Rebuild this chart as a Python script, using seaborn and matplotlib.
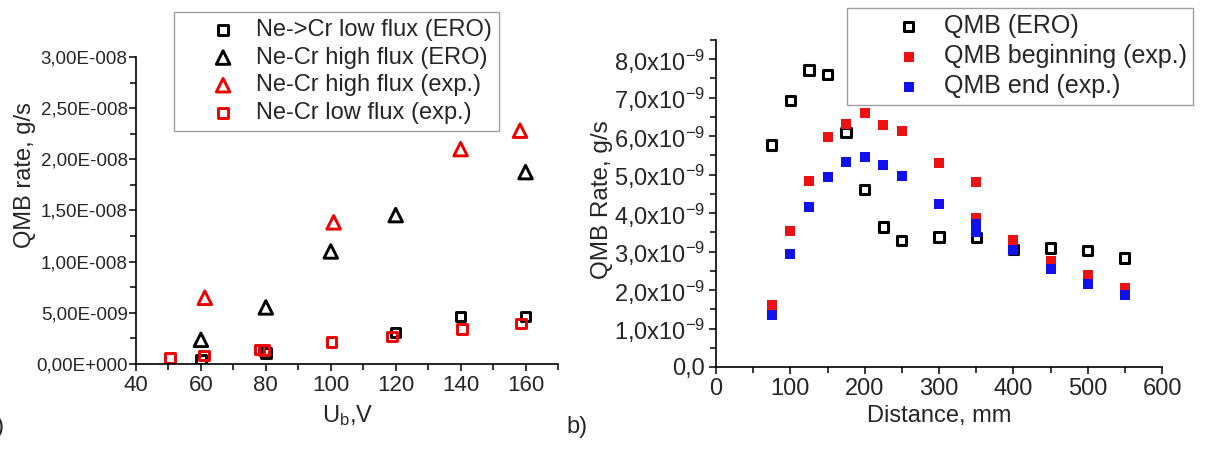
import matplotlib
matplotlib.use('Agg')
import matplotlib.pyplot as plt
import matplotlib.ticker as mticker
import numpy as np
import pandas as pd
import seaborn as sns

# panel a) -- QMB rate vs bias voltage
ero_low_x = [60, 80, 120, 140, 160]
ero_low_y = [0.42e-9, 1.07e-9, 3.1e-9, 4.62e-9, 4.62e-9]
ero_high_x = [60, 80, 100, 120, 160]
ero_high_y = [2.36e-9, 5.53e-9, 11.0e-9, 14.55e-9, 18.75e-9]
exp_high_x = [61.2, 100.9, 140, 158.3]
exp_high_y = [6.47e-9, 13.84e-9, 21.0e-9, 22.8e-9]
exp_low_x = [50.5, 61, 78, 79.4, 100.2, 118.8, 140.4, 158.6]
exp_low_y = [0.58e-9, 0.84e-9, 1.39e-9, 1.37e-9, 2.13e-9, 2.68e-9, 3.43e-9, 3.98e-9]

# panel b) -- QMB rate vs distance
qmb_ero_x = [75, 100, 125, 150, 175, 200, 225, 250, 300, 350, 400, 450, 500, 550]
qmb_ero_y = [5.77e-9, 6.92e-9, 7.72e-9, 7.60e-9, 6.09e-9, 4.62e-9, 3.64e-9, 3.28e-9,
             3.38e-9, 3.36e-9, 3.05e-9, 3.09e-9, 3.02e-9, 2.83e-9]
qmb_beg_x = [75, 100, 125, 150, 175, 200, 225, 250, 300, 350, 350, 400, 450, 500, 550]
qmb_beg_y = [1.60e-9, 3.54e-9, 4.83e-9, 5.98e-9, 6.32e-9, 6.61e-9, 6.29e-9, 6.13e-9,
             5.30e-9, 4.82e-9, 3.88e-9, 3.31e-9, 2.76e-9, 2.38e-9, 2.06e-9]
qmb_end_x = [75, 100, 125, 150, 175, 200, 225, 250, 300, 350, 350, 400, 450, 500, 550]
qmb_end_y = [1.36e-9, 2.95e-9, 4.16e-9, 4.95e-9, 5.34e-9, 5.45e-9, 5.25e-9, 4.96e-9,
             4.25e-9, 3.72e-9, 3.52e-9, 3.05e-9, 2.55e-9, 2.17e-9, 1.87e-9]

W, H = 1208, 450


def fmt_a(v, pos):
    if abs(v) < 1e-20:
        return '0,00E+000'
    mant, ex = f'{v:.2E}'.split('E')
    ex = int(ex)
    sign = '-' if ex < 0 else '+'
    return f"{mant.replace('.', ',')}E{sign}{abs(ex):03d}"


def fmt_b(v, pos):
    if abs(v) < 1e-20:
        return '0,0'
    return f"{v * 1e9:.1f}".replace('.', ',') + r'x10$^{-9}$'


def style_axes(ax):
    sns.despine(ax=ax)
    for s in ['left', 'bottom']:
        ax.spines[s].set_linewidth(1.2)
        ax.spines[s].set_color('black')
    ax.tick_params(which='major', direction='out', length=5, width=1.1, color='black')
    ax.tick_params(which='minor', direction='out', length=4, width=1.1, color='black')
    ax.grid(False)


def frame(leg):
    leg.get_frame().set_edgecolor('#888888')
    leg.get_frame().set_linewidth(1.0)


sns.set_style('ticks')
plt.rcParams['font.family'] = ['Liberation Sans', 'DejaVu Sans']
plt.rcParams['mathtext.fontset'] = 'custom'
plt.rcParams['mathtext.rm'] = 'Liberation Sans'
plt.rcParams['mathtext.it'] = 'Liberation Sans:italic'

fig = plt.figure(figsize=(W / 100, H / 100), dpi=100)
ax1 = fig.add_axes([136 / W, 1 - 364 / H, (558 - 136) / W, (364 - 57) / H])
ax2 = fig.add_axes([716 / W, 1 - 367 / H, (1162 - 716) / W, (367 - 40) / H])

# ---- panel a
open_kw = dict(facecolor='none', linewidth=2.1)
sns.scatterplot(x=ero_low_x, y=ero_low_y, marker='s', s=46, edgecolor='black',
                label='Ne->Cr low flux (ERO)', ax=ax1, **open_kw)
sns.scatterplot(x=ero_high_x, y=ero_high_y, marker='^', s=95, edgecolor='black',
                label='Ne-Cr high flux (ERO)', ax=ax1, **open_kw)
sns.scatterplot(x=exp_high_x, y=exp_high_y, marker='^', s=95, edgecolor='#ee0000',
                label='Ne-Cr high flux (exp.)', ax=ax1, **open_kw)
sns.scatterplot(x=exp_low_x, y=exp_low_y, marker='s', s=46, edgecolor='#ee0000',
                label='Ne-Cr low flux (exp.)', ax=ax1, **open_kw)

ax1.set_xlim(40, 170)
ax1.set_ylim(0, 3.0e-8)
ax1.xaxis.set_major_locator(mticker.MultipleLocator(20))
ax1.xaxis.set_minor_locator(mticker.MultipleLocator(10))
ax1.yaxis.set_major_locator(mticker.MultipleLocator(5e-9))
ax1.yaxis.set_minor_locator(mticker.MultipleLocator(2.5e-9))
ax1.yaxis.set_major_formatter(mticker.FuncFormatter(fmt_a))
ax1.yaxis.get_offset_text().set_visible(False)
style_axes(ax1)
ax1.tick_params(axis='x', labelsize=16, pad=3)
ax1.tick_params(axis='y', labelsize=13.5, pad=1)
ax1.set_xlabel(r'U$_\mathrm{b}$,V', fontsize=17, va='top')
ax1.xaxis.set_label_coords(0.502, -0.127)
ax1.set_ylabel('QMB rate, g/s', fontsize=17)
ax1.yaxis.set_label_coords(-0.236, 0.616)

leg1 = ax1.legend(loc='upper left', bbox_to_anchor=(174 / W, 1 - 12 / H),
                  bbox_transform=fig.transFigure, fontsize=17, frameon=True,
                  fancybox=False, borderaxespad=0, handlelength=3.56,
                  handletextpad=-0.38, labelspacing=0.24, borderpad=0.3)
frame(leg1)

# ---- panel b
sns.scatterplot(x=qmb_ero_x, y=qmb_ero_y, marker='s', s=45, facecolor='none',
                edgecolor='black', linewidth=2.2, label='QMB (ERO)', ax=ax2)
sns.scatterplot(x=qmb_beg_x, y=qmb_beg_y, marker='s', s=42, color='#ee1111',
                linewidth=0, label='QMB beginning (exp.)', ax=ax2)
sns.scatterplot(x=qmb_end_x, y=qmb_end_y, marker='s', s=42, color='#1111ee',
                linewidth=0, label='QMB end (exp.)', ax=ax2)

ax2.set_xlim(0, 600)
ax2.set_ylim(0, 8.5e-9)
ax2.xaxis.set_major_locator(mticker.MultipleLocator(100))
ax2.xaxis.set_minor_locator(mticker.MultipleLocator(50))
ax2.yaxis.set_major_locator(mticker.MultipleLocator(1e-9))
ax2.yaxis.set_minor_locator(mticker.MultipleLocator(0.5e-9))
ax2.yaxis.set_major_formatter(mticker.FuncFormatter(fmt_b))
ax2.yaxis.get_offset_text().set_visible(False)
style_axes(ax2)
ax2.tick_params(axis='both', labelsize=17, pad=3)
ax2.set_xlabel('Distance, mm', fontsize=17, va='top')
ax2.xaxis.set_label_coords(0.5, -0.116)
ax2.set_ylabel('QMB Rate, g/s', fontsize=17.5)
ax2.yaxis.set_label_coords(-0.231, 0.511)

leg2 = ax2.legend(loc='upper left', bbox_to_anchor=(847 / W, 1 - 8 / H),
                  bbox_transform=fig.transFigure, fontsize=18, frameon=True,
                  fancybox=False, borderaxespad=0, handlelength=4.44,
                  handletextpad=-0.82, labelspacing=0.24, borderpad=0.25)
frame(leg2)

# panel letters
fig.text(-17 / W, 1 - 427 / H, 'a)', fontsize=17, va='center', ha='left')
fig.text(566 / W, 1 - 427 / H, 'b)', fontsize=17, va='center', ha='left')

fig.savefig('out.png', dpi=100)
